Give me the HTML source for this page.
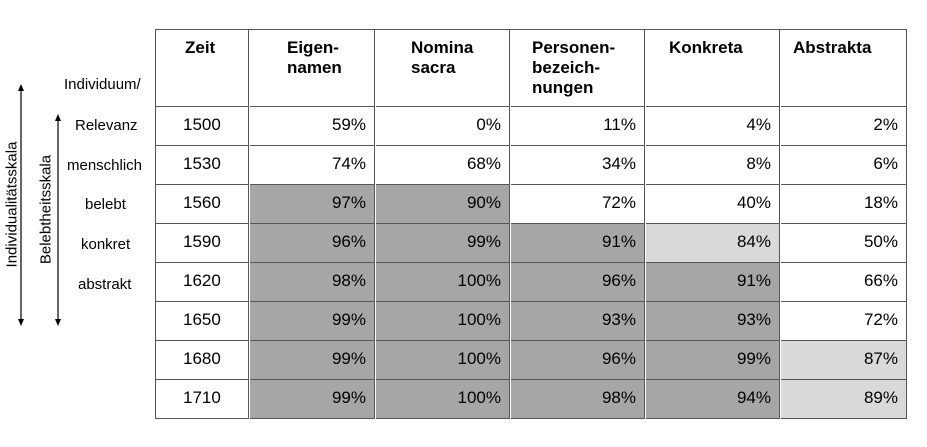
<!DOCTYPE html>
<html><head><meta charset="utf-8"><style>
body{margin:0;width:927px;height:447px;background:#fff;position:relative;overflow:hidden;font-family:"Liberation Sans",Arial,sans-serif;color:#000}
.c{position:absolute;box-sizing:border-box;border-right:1px solid #555;border-bottom:1px solid #555;font-size:17px}
.h{font-weight:bold;line-height:20px;padding-top:8px}
.v{text-align:right;padding-right:8px;padding-top:8px}
.lab{position:absolute;font-size:15px;white-space:nowrap}
.rot{position:absolute;font-size:15px;width:200px;text-align:center;transform:rotate(-90deg);transform-origin:center;white-space:nowrap}
</style></head><body>
<div id="tbl" style="position:absolute;left:155px;top:29px;width:752px;height:390px;border-left:1px solid #555;border-top:1px solid #555;box-sizing:border-box"></div>

<svg width="80" height="447" style="position:absolute;left:0;top:0">
<line x1="21" y1="90" x2="21" y2="320" stroke="#000" stroke-width="1.2"/>
<polygon points="21,84 18,91 24,91" fill="#000"/><polygon points="21,326 18,319 24,319" fill="#000"/>
<line x1="58" y1="120" x2="58" y2="320" stroke="#000" stroke-width="1.2"/>
<polygon points="58,114 55,121 61,121" fill="#000"/><polygon points="58,326 55,319 61,319" fill="#000"/>
</svg>
<div class="rot" style="left:-88px;top:196px">Individualitätsskala</div>
<div class="rot" style="left:-54px;top:201px">Belebtheitsskala</div>
<div class="lab" style="left:64px;top:76px">Individuum/</div>
<div class="lab" style="left:75px;top:117px">Relevanz</div>
<div class="lab" style="left:67px;top:157px">menschlich</div>
<div class="lab" style="left:85px;top:196px">belebt</div>
<div class="lab" style="left:81px;top:236px">konkret</div>
<div class="lab" style="left:78px;top:276px">abstrakt</div>

<script>
const headers=["Zeit","Eigen-<br>namen","Nomina<br>sacra","Personen-<br>bezeich-<br>nungen","Konkreta","Abstrakta"];
const years=["1500","1530","1560","1590","1620","1650","1680","1710"];
const eigennamen=[59,74,97,96,98,99,99,99];
const nomina=[0,68,90,99,100,100,100,100];
const personen=[11,34,72,91,96,93,96,98];
const konkreta=[4,8,40,84,91,93,99,94];
const abstrakta=[2,6,18,50,66,72,87,89];
// shading: 0 none, 1 dark, 2 light
const shade=[
[0,0,0,0,0],[0,0,0,0,0],[1,1,0,0,0],[1,1,1,2,0],
[1,1,1,1,0],[1,1,1,1,0],[1,1,1,1,2],[1,1,1,1,2]];
const colX=[155,249,375,510,645,780,907];
const hPad=[29,37,35,21,23,12];
const names=["zeit","eigennamen","nomina-sacra","personenbezeichnungen","konkreta","abstrakta"];
const top0=29,hdrH=78,rowH=39;
const series=[eigennamen,nomina,personen,konkreta,abstrakta];
const body=document.body;
for(let j=0;j<6;j++){
  const d=document.createElement('div');
  d.className='c h';
  
  
  d.style.left=(colX[j]+1)+'px';d.style.top=(top0+1)+'px';
  d.style.width=(colX[j+1]-colX[j]-1)+'px';d.style.height=(hdrH-1)+'px';
  d.style.paddingLeft=hPad[j]+'px';
  d.innerHTML=headers[j];
  body.appendChild(d);
}
for(let i=0;i<years.length;i++){
  const y=top0+hdrH+i*rowH;
  for(let j=0;j<6;j++){
    const d=document.createElement('div');
    d.className='c v';
    
    
    d.style.left=(colX[j]+1)+'px';d.style.top=y+'px';
    d.style.width=(colX[j+1]-colX[j]-1)+'px';d.style.height=rowH+'px';
    if(j===0){d.style.textAlign='left';d.style.paddingLeft='27px';d.textContent=years[i];}
    else{
      d.textContent=series[j-1][i]+'%';
      const s=shade[i][j-1];
      if(s===1)d.style.background='#a6a6a6';
      if(s===2)d.style.background='#d9d9d9';
    }
    body.appendChild(d);
  }
}
</script>
</body></html>
